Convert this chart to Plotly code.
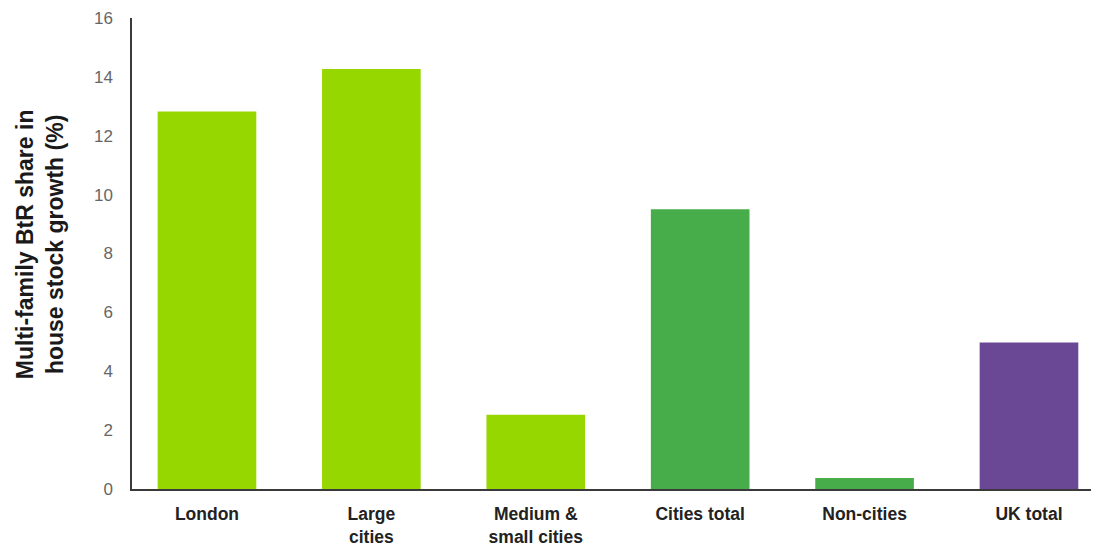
import plotly.graph_objects as go

categories = ["London", "Large<br>cities", "Medium &<br>small cities", "Cities total", "Non-cities", "UK total"]
values = [12.82, 14.27, 2.52, 9.50, 0.37, 4.98]
bar_colors = ["#97D700", "#97D700", "#97D700", "#46AD4A", "#46AD4A", "#6A4896"]
y_ticks = [0, 2, 4, 6, 8, 10, 12, 14, 16]
y_title = "Multi-family BtR share in<br>house stock growth (%)"

fig = go.Figure(
    go.Bar(
        x=list(range(len(categories))),
        y=values,
        marker=dict(color=bar_colors, line=dict(width=0)),
        hoverinfo="skip",
    )
)

# the page body has an 8px default margin, so the figure is sized/offset to compensate
fig.update_layout(
    width=1091,
    height=539,
    margin=dict(l=124, r=0, t=10, b=58, autoexpand=False),
    paper_bgcolor="white",
    plot_bgcolor="white",
    bargap=0.40,
    showlegend=False,
    font=dict(family="Liberation Sans, Arial, sans-serif"),
    annotations=[
        dict(
            text="<b>" + y_title + "</b>",
            textangle=-90,
            xref="paper", yref="paper",
            x=-0.095, y=0.52,
            xanchor="center", yanchor="middle",
            showarrow=False,
            font=dict(size=23, color="#1a1a1a", family="Liberation Sans, Arial, sans-serif"),
        )
    ],
)

fig.update_xaxes(
    range=[-0.456, 5.426],
    tickmode="array",
    tickvals=list(range(len(categories))),
    ticktext=categories,
    showgrid=False,
    zeroline=False,
    showline=True,
    linecolor="#3a3a3a",
    linewidth=1.5,
    ticks="",
    ticklabelstandoff=8,
    tickfont=dict(size=17.5, color="#222222", weight="bold"),
)

fig.update_yaxes(
    range=[0, 16],
    tickmode="array",
    tickvals=y_ticks,
    ticktext=[str(v) for v in y_ticks],
    showgrid=False,
    zeroline=False,
    showline=True,
    linecolor="#3a3a3a",
    linewidth=1.5,
    ticks="",
    ticklabelstandoff=14,
    tickfont=dict(size=17, color="#666666"),
)

fig.write_html("out.html")
